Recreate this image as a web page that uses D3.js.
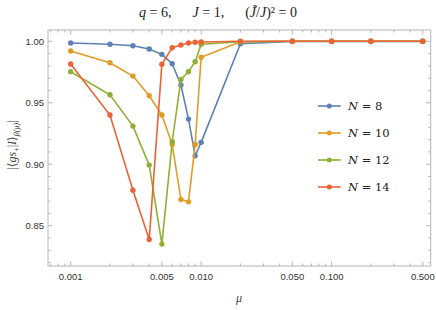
<!DOCTYPE html>
<html>
<head>
<meta charset="utf-8">
<script src="https://cdn.jsdelivr.net/npm/d3@7"></script>
<style>
  body { margin: 0; background: #fff; }
  svg { display: block; font-family: "Liberation Sans", "DejaVu Sans", sans-serif; }
</style>
</head>
<body>
<svg id="chart" width="436" height="310"></svg>
<script>
const mu = [0.001, 0.002, 0.003, 0.004, 0.005, 0.006, 0.007, 0.008, 0.009, 0.01, 0.02, 0.05, 0.1, 0.2, 0.5];
const fid8  = [0.9986, 0.9976, 0.9964, 0.9937, 0.9894, 0.9818, 0.9644, 0.9367, 0.9068, 0.9178, 0.9980, 0.9999, 0.9999, 0.9999, 0.9999];
const fid10 = [0.9921, 0.9826, 0.9717, 0.9557, 0.9400, 0.9161, 0.8713, 0.8694, 0.9161, 0.9870, 0.9997, 1.0, 1.0, 1.0, 1.0];
const fid12 = [0.9752, 0.9565, 0.9310, 0.8993, 0.8350, 0.9183, 0.9690, 0.9752, 0.9834, 0.9976, 0.9997, 1.0, 1.0, 1.0, 1.0];
const fid14 = [0.9815, 0.9400, 0.8789, 0.8388, 0.9813, 0.9948, 0.9970, 0.9986, 0.9992, 0.9994, 1.0, 1.0, 1.0, 1.0, 1.0];
const seriesNames = ["8", "10", "12", "14"];
const colors = ["#5e81b5", "#e19c24", "#8fb032", "#eb6235"];
const xTickVals = [0.001, 0.005, 0.01, 0.05, 0.1, 0.5];
const xTickLabels = ["0.001", "0.005", "0.010", "0.050", "0.100", "0.500"];
const yTickVals = [0.85, 0.90, 0.95, 1.00];

const series = [fid8, fid10, fid12, fid14].map((vals, i) => ({
  name: seriesNames[i], color: colors[i],
  pts: mu.map((m, j) => [m, vals[j]])
}));

const svg = d3.select("#chart");
const L = 48, R = 430.7, T = 30, B = 266;

const x = d3.scaleLog().domain([0.00067, 0.575]).range([L, R]);
const y = d3.scaleLinear().domain([0.8172, 1.0092]).range([B, T]);

const frameCol = "#b5b5b5";

// minor ticks
const xMinor = [];
[0.0001, 0.001, 0.01, 0.1].forEach(d => { for (let k = 1; k < 10; k++) xMinor.push(d * k); });
const xMinorIn = xMinor.filter(v => v >= 0.00067 && v <= 0.575 && !xTickVals.some(t => Math.abs(t - v) / v < 1e-6));
const yMinor = d3.range(82, 101).map(v => v / 100).filter(v => !yTickVals.some(t => Math.abs(t - v) < 1e-6));

const tickG = svg.append("g").attr("stroke", frameCol).attr("stroke-width", 1);
xMinorIn.forEach(v => {
  const px = x(v);
  tickG.append("line").attr("x1", px).attr("x2", px).attr("y1", B).attr("y2", B - 2.5);
  tickG.append("line").attr("x1", px).attr("x2", px).attr("y1", T).attr("y2", T + 2.5);
});
xTickVals.forEach(v => {
  const px = x(v);
  tickG.append("line").attr("x1", px).attr("x2", px).attr("y1", B).attr("y2", B - 4.5);
  tickG.append("line").attr("x1", px).attr("x2", px).attr("y1", T).attr("y2", T + 4.5);
});
yMinor.forEach(v => {
  const py = y(v);
  tickG.append("line").attr("x1", L).attr("x2", L + 2.5).attr("y1", py).attr("y2", py);
  tickG.append("line").attr("x1", R).attr("x2", R - 2.5).attr("y1", py).attr("y2", py);
});
yTickVals.forEach(v => {
  const py = y(v);
  tickG.append("line").attr("x1", L).attr("x2", L + 4.5).attr("y1", py).attr("y2", py);
  tickG.append("line").attr("x1", R).attr("x2", R - 4.5).attr("y1", py).attr("y2", py);
});

svg.append("rect")
  .attr("x", L).attr("y", T).attr("width", R - L).attr("height", B - T)
  .attr("fill", "none").attr("stroke", frameCol).attr("stroke-width", 1);

// tick labels
svg.append("g").selectAll("text").data(xTickVals).join("text")
  .attr("x", d => x(d)).attr("y", B + 14)
  .attr("text-anchor", "middle").attr("font-size", 9.5).attr("fill", "#333")
  .text((d, i) => xTickLabels[i]);

svg.append("g").selectAll("text").data(yTickVals).join("text")
  .attr("x", L - 4).attr("y", d => y(d) + 3.3)
  .attr("text-anchor", "end").attr("font-size", 9.5).attr("fill", "#333")
  .text(d => d3.format(".2f")(d));

// series
const line = d3.line().x(d => x(d[0])).y(d => y(d[1]));
series.forEach(s => {
  const g = svg.append("g");
  g.append("path").datum(s.pts)
    .attr("d", line).attr("fill", "none")
    .attr("stroke", s.color).attr("stroke-width", 1.6);
  g.selectAll("circle").data(s.pts).join("circle")
    .attr("cx", d => x(d[0])).attr("cy", d => y(d[1])).attr("r", 2.7)
    .attr("fill", s.color);
});

// legend
const leg = svg.append("g").attr("transform", "translate(318,106)");
series.forEach((s, i) => {
  const gy = i * 27;
  leg.append("line").attr("x1", 0).attr("x2", 22.7).attr("y1", gy).attr("y2", gy)
    .attr("stroke", s.color).attr("stroke-width", 1.6);
  leg.append("circle").attr("cx", 11.3).attr("cy", gy).attr("r", 2.5).attr("fill", s.color);
  const t = leg.append("text").attr("x", 30).attr("y", gy + 4)
    .attr("font-family", "'DejaVu Serif', 'Liberation Serif', serif").attr("font-size", 11.5).attr("fill", "#222");
  t.append("tspan").attr("font-style", "italic").text("N");
  t.append("tspan").text(" = " + s.name);
});

// title
const serif = "'Liberation Serif', 'DejaVu Serif', serif";
const title = svg.append("text").attr("x", 218).attr("y", 17)
  .attr("text-anchor", "middle").attr("font-family", serif).attr("font-size", 14).attr("fill", "#222");
title.append("tspan").attr("font-style", "italic").text("q");
title.append("tspan").text(" = 6,\u2003\u2002");
title.append("tspan").attr("font-style", "italic").text("J");
title.append("tspan").text(" = 1,\u2003\u2002(");
title.append("tspan").attr("font-style", "italic").text("J\u0303");
title.append("tspan").text("/");
title.append("tspan").attr("font-style", "italic").text("J");
title.append("tspan").text(")\u00b2 = 0");

// axis labels
svg.append("text").attr("x", 239).attr("y", 302)
  .attr("text-anchor", "middle").attr("font-family", serif).attr("font-style", "italic")
  .attr("font-size", 12).attr("fill", "#444").text("\u03bc");

const yl = svg.append("text")
  .attr("transform", "translate(16,145) rotate(-90)")
  .attr("text-anchor", "middle").attr("font-family", serif).attr("font-size", 12).attr("fill", "#444");
yl.append("tspan").text("|\u27e8");
yl.append("tspan").attr("font-style", "italic").text("gs");
yl.append("tspan").attr("font-size", 8).attr("dy", 3).text("+");
yl.append("tspan").attr("dy", -3).text("|");
yl.append("tspan").attr("font-style", "italic").text("I");
yl.append("tspan").text("\u27e9");
yl.append("tspan").attr("font-size", 8).attr("dy", 3).attr("font-style", "italic").text("\u03b2(\u03bc)");
yl.append("tspan").attr("dy", -3).text("|");
</script>
</body>
</html>
